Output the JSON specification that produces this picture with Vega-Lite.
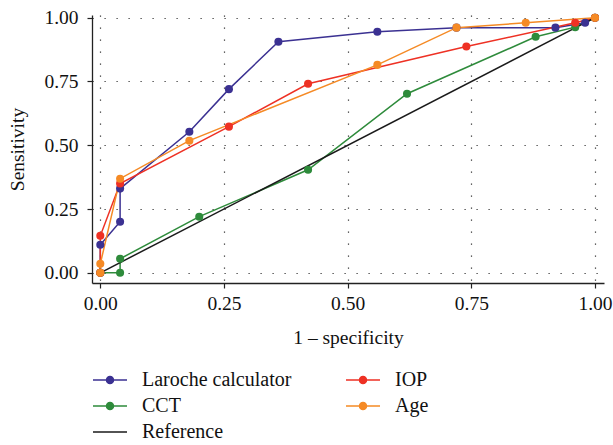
{
  "$schema": "https://vega.github.io/schema/vega-lite/v6.json",
  "width": 512,
  "height": 268,
  "autosize": "none",
  "padding": {"left": 92, "top": 15, "right": 9, "bottom": 162},
  "background": "white",
  "config": {
    "view": {"stroke": null},
    "font": "Liberation Serif",
    "axis": {
      "labelFont": "Liberation Serif",
      "titleFont": "Liberation Serif",
      "labelFontSize": 19.5,
      "titleFontSize": 19.5,
      "titleFontWeight": "normal",
      "labelColor": "#111",
      "titleColor": "#111",
      "domainColor": "#222",
      "domainWidth": 1.3,
      "tickColor": "#222",
      "tickWidth": 1.2,
      "tickSize": 5,
      "gridColor": "#333",
      "gridDash": [1.2, 10.8],
      "gridWidth": 1.2,
      "gridOpacity": 1
    },
    "legend": {
      "labelFont": "Liberation Serif",
      "labelFontSize": 20,
      "labelColor": "#111"
    }
  },
  "data": {
    "values": [
      {"series": "Laroche calculator", "i": 0, "fpr": 0, "tpr": 0},
      {"series": "Laroche calculator", "i": 1, "fpr": 0, "tpr": 0.11},
      {"series": "Laroche calculator", "i": 2, "fpr": 0.04, "tpr": 0.2},
      {"series": "Laroche calculator", "i": 3, "fpr": 0.04, "tpr": 0.33},
      {"series": "Laroche calculator", "i": 4, "fpr": 0.18, "tpr": 0.553},
      {"series": "Laroche calculator", "i": 5, "fpr": 0.26, "tpr": 0.72},
      {"series": "Laroche calculator", "i": 6, "fpr": 0.36, "tpr": 0.906},
      {"series": "Laroche calculator", "i": 7, "fpr": 0.56, "tpr": 0.945},
      {"series": "Laroche calculator", "i": 8, "fpr": 0.72, "tpr": 0.961},
      {"series": "Laroche calculator", "i": 9, "fpr": 0.92, "tpr": 0.961},
      {"series": "Laroche calculator", "i": 10, "fpr": 0.98, "tpr": 0.98},
      {"series": "Laroche calculator", "i": 11, "fpr": 1, "tpr": 1},
      {"series": "CCT", "i": 0, "fpr": 0, "tpr": 0},
      {"series": "CCT", "i": 1, "fpr": 0.04, "tpr": 0},
      {"series": "CCT", "i": 2, "fpr": 0.04, "tpr": 0.055},
      {"series": "CCT", "i": 3, "fpr": 0.2, "tpr": 0.22},
      {"series": "CCT", "i": 4, "fpr": 0.42, "tpr": 0.404},
      {"series": "CCT", "i": 5, "fpr": 0.62, "tpr": 0.702},
      {"series": "CCT", "i": 6, "fpr": 0.88, "tpr": 0.925},
      {"series": "CCT", "i": 7, "fpr": 0.96, "tpr": 0.963},
      {"series": "CCT", "i": 8, "fpr": 1, "tpr": 1},
      {"series": "IOP", "i": 0, "fpr": 0, "tpr": 0},
      {"series": "IOP", "i": 1, "fpr": 0, "tpr": 0.145},
      {"series": "IOP", "i": 2, "fpr": 0.04, "tpr": 0.35},
      {"series": "IOP", "i": 3, "fpr": 0.26, "tpr": 0.573},
      {"series": "IOP", "i": 4, "fpr": 0.42, "tpr": 0.741},
      {"series": "IOP", "i": 5, "fpr": 0.74, "tpr": 0.887},
      {"series": "IOP", "i": 6, "fpr": 0.96, "tpr": 0.98},
      {"series": "IOP", "i": 7, "fpr": 1, "tpr": 1},
      {"series": "Age", "i": 0, "fpr": 0, "tpr": 0},
      {"series": "Age", "i": 1, "fpr": 0, "tpr": 0.035},
      {"series": "Age", "i": 2, "fpr": 0.04, "tpr": 0.369},
      {"series": "Age", "i": 3, "fpr": 0.18, "tpr": 0.518},
      {"series": "Age", "i": 4, "fpr": 0.56, "tpr": 0.815},
      {"series": "Age", "i": 5, "fpr": 0.72, "tpr": 0.961},
      {"series": "Age", "i": 6, "fpr": 0.86, "tpr": 0.98},
      {"series": "Age", "i": 7, "fpr": 1, "tpr": 1},
      {"series": "Reference", "i": 0, "fpr": 0, "tpr": 0},
      {"series": "Reference", "i": 1, "fpr": 1, "tpr": 1}
    ]
  },
  "encoding": {
    "x": {
      "field": "fpr", "type": "quantitative",
      "scale": {"domain": [-0.0168, 1.0182], "nice": false, "zero": false},
      "axis": {"values": [0, 0.25, 0.5, 0.75, 1], "format": ".2f", "title": "1 – specificity", "labelPadding": 6, "titlePadding": 16}
    },
    "y": {
      "field": "tpr", "type": "quantitative",
      "scale": {"domain": [-0.04, 1.0106], "nice": false, "zero": false},
      "axis": {"values": [0, 0.25, 0.5, 0.75, 1], "format": ".2f", "title": "Sensitivity", "labelPadding": 9, "titlePadding": 16}
    },
    "color": {
      "field": "series", "type": "nominal",
      "scale": {
        "domain": ["Laroche calculator", "CCT", "Reference", "IOP", "Age"],
        "range": ["#3b3192", "#2e8b3b", "#1a1a1a", "#ee3124", "#f58a25"]
      },
      "legend": {
        "title": null,
        "orient": "none",
        "legendX": 7,
        "legendY": 354,
        "columns": 2,
        "columnPadding": 51,
        "rowPadding": 5,
        "symbolSize": 400,
        "labelOffset": 21,
        "symbolType": "M-1.7,0H1.7M-0.35,0A0.35,0.35,0,1,1,0.35,0A0.35,0.35,0,1,1,-0.35,0",
        "encode": {
          "symbols": {
            "update": {
              "shape": {"signal": "datum.value === 'Reference' ? 'M-1.7,0H1.7' : 'M-1.7,0H1.7M-0.35,0A0.35,0.35,0,1,1,0.35,0A0.35,0.35,0,1,1,-0.35,0'"},
              "fill": {"scale": "color", "field": "value"},
              "stroke": {"scale": "color", "field": "value"},
              "strokeWidth": {"value": 1.5},
              "opacity": {"value": 1},
              "fillOpacity": {"value": 1},
              "strokeOpacity": {"value": 1}
            }
          }
        }
      }
    }
  },
  "layer": [
    {
      "mark": {"type": "line", "strokeWidth": 1.5, "clip": false},
      "encoding": {"order": {"field": "i", "type": "quantitative"}}
    },
    {
      "transform": [{"filter": "datum.series !== 'Reference'"}],
      "mark": {"type": "point", "filled": true, "size": 65, "opacity": 1, "clip": false}
    }
  ]
}
